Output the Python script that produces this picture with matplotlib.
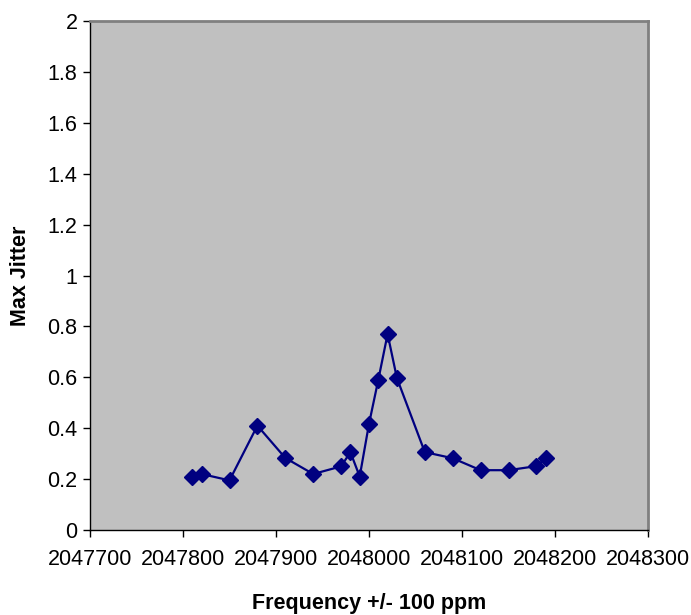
import matplotlib.pyplot as plt

plt.rcParams['font.family'] = ['Liberation Sans', 'DejaVu Sans']

freq = [2047810, 2047820, 2047850, 2047880, 2047910, 2047940, 2047970, 2047980,
        2047990, 2048000, 2048010, 2048020, 2048030, 2048060, 2048090, 2048120,
        2048150, 2048180, 2048190]
jitter = [0.21, 0.22, 0.195, 0.41, 0.283, 0.22, 0.25, 0.306,
          0.21, 0.417, 0.59, 0.77, 0.597, 0.306, 0.282, 0.235,
          0.235, 0.251, 0.282]

x_ticks = [2047700, 2047800, 2047900, 2048000, 2048100, 2048200, 2048300]
y_ticks = [0, 0.2, 0.4, 0.6, 0.8, 1, 1.2, 1.4, 1.6, 1.8, 2]

fig = plt.figure(figsize=(6.91, 6.15), dpi=100)
ax = fig.add_axes([90 / 691, 85 / 615, 558 / 691, 509 / 615])
ax.set_facecolor('#c0c0c0')

ax.plot(freq, jitter, color='#000080', lw=1.6, marker='D', markersize=8,
        markerfacecolor='#000080', markeredgecolor='#000080')

ax.set_xlim(2047700, 2048300)
ax.set_ylim(0, 2)
ax.set_xticks(x_ticks)
ax.set_xticklabels([str(v) for v in x_ticks])
ax.set_yticks(y_ticks)
ax.set_yticklabels(['%g' % v for v in y_ticks])
ax.tick_params(direction='out', length=5, width=1, labelsize=15.5, pad=4)
ax.tick_params(axis='x', pad=9)

for side in ['top', 'right']:
    ax.spines[side].set_color('#808080')
    ax.spines[side].set_linewidth(2)
for side in ['left', 'bottom']:
    ax.spines[side].set_color('black')
    ax.spines[side].set_linewidth(1)

ax.set_xlabel('Frequency +/- 100 ppm', fontsize=15.5, fontweight='bold', labelpad=16)
ax.set_ylabel('Max Jitter', fontsize=15.5, fontweight='bold', labelpad=12)

plt.savefig('out.png', dpi=100)
